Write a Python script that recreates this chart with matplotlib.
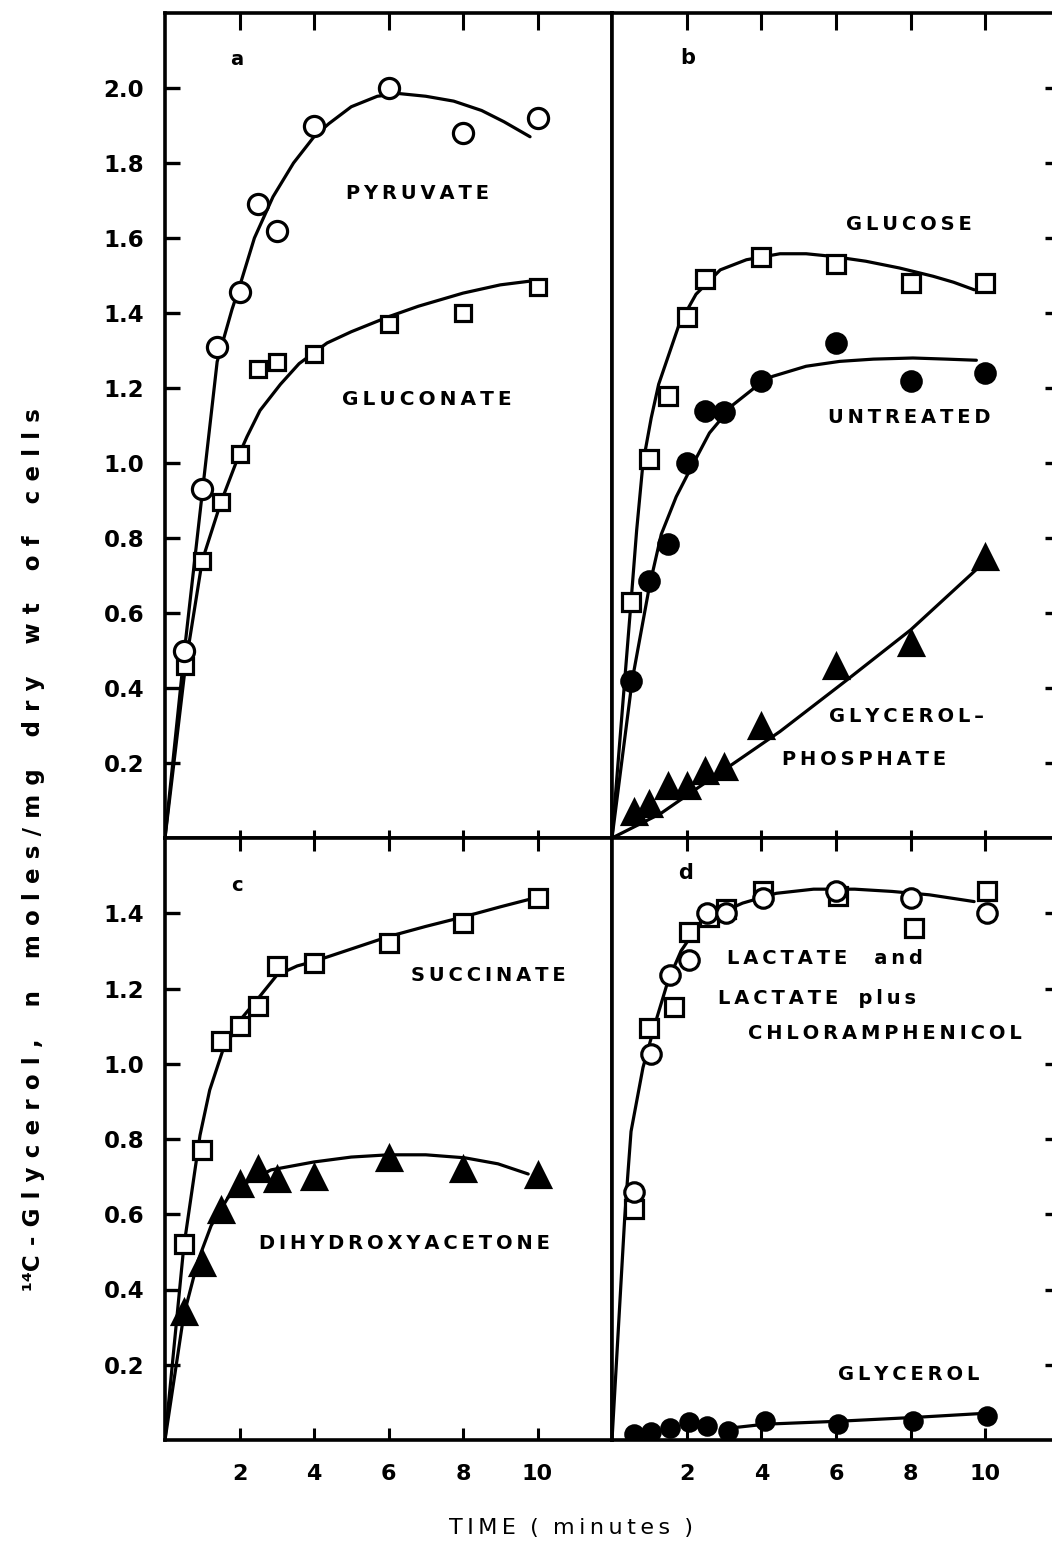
import matplotlib
matplotlib.use("Agg")
import matplotlib.pyplot as plt

plt.rcParams["font.family"] = ["DejaVu Sans"]
plt.rcParams["font.weight"] = "bold"

# --- panel a: pyruvate / gluconate ---
pyr_t = [0.5, 1.0, 1.4, 2.0, 2.5, 3.0, 4.0, 6.0, 8.0, 10.0]
pyr_v = [0.50, 0.93, 1.31, 1.455, 1.69, 1.62, 1.90, 2.00, 1.88, 1.92]
pyr_fit_t = [0, 0.5, 1.0, 1.4, 1.8, 2.0, 2.4, 2.9, 3.45, 4.0, 4.4, 5.0, 5.7, 6.3, 7.0, 7.75, 8.5, 9.1, 9.8]
pyr_fit_v = [0, 0.48, 0.92, 1.27, 1.41, 1.47, 1.60, 1.71, 1.80, 1.87, 1.905, 1.95, 1.978, 1.985, 1.978, 1.965, 1.94, 1.91, 1.87]

glcn_t = [0.55, 1.0, 1.5, 2.0, 2.5, 3.0, 4.0, 6.0, 8.0, 10.0]
glcn_v = [0.46, 0.74, 0.895, 1.025, 1.25, 1.27, 1.29, 1.37, 1.40, 1.47]
glcn_fit_t = [0, 0.55, 1.0, 1.5, 2.0, 2.2, 2.55, 3.1, 3.6, 4.35, 5.0, 6.0, 6.8, 8.0, 9.0, 9.8]
glcn_fit_v = [0, 0.46, 0.74, 0.895, 1.025, 1.07, 1.14, 1.21, 1.265, 1.32, 1.35, 1.39, 1.418, 1.453, 1.475, 1.485]

# --- panel b: glucose / untreated / glycerol-phosphate ---
glc_t = [0.5, 1.0, 1.5, 2.0, 2.5, 4.0, 6.0, 8.0, 10.0]
glc_v = [0.63, 1.01, 1.18, 1.39, 1.49, 1.55, 1.53, 1.48, 1.48]
glc_fit_t = [0, 0.51, 0.66, 0.83, 1.05, 1.25, 1.8, 2.25, 2.9, 3.6, 4.5, 5.2, 5.9, 6.8, 7.7, 8.6, 9.15, 9.7]
glc_fit_v = [0, 0.63, 0.82, 1.0, 1.12, 1.21, 1.37, 1.45, 1.515, 1.542, 1.558, 1.558, 1.551, 1.538, 1.52, 1.498, 1.482, 1.462]

unt_t = [0.5, 1.0, 1.5, 2.0, 2.5, 3.0, 4.0, 6.0, 8.0, 10.0]
unt_v = [0.42, 0.685, 0.785, 1.0, 1.14, 1.135, 1.22, 1.32, 1.22, 1.24]
unt_fit_t = [0, 0.54, 1.0, 1.32, 1.72, 2.08, 2.61, 3.24, 4.0, 4.3, 5.2, 6.1, 7.0, 8.06, 8.96, 9.76]
unt_fit_v = [0, 0.42, 0.67, 0.81, 0.91, 0.98, 1.08, 1.155, 1.215, 1.231, 1.258, 1.271, 1.277, 1.28, 1.277, 1.274]

gp_t = [0.6, 1.0, 1.5, 2.0, 2.5, 3.0, 4.0, 6.0, 8.0, 10.0]
gp_v = [0.07, 0.09, 0.14, 0.14, 0.18, 0.19, 0.30, 0.46, 0.52, 0.75]
gp_fit_t = [0, 1.3, 2.2, 3.2, 4.5, 6.3, 8.0, 9.76]
gp_fit_v = [0, 0.065, 0.127, 0.195, 0.284, 0.422, 0.555, 0.716]

# --- panel c: succinate / dihydroxyacetone ---
suc_t = [0.5, 1.0, 1.5, 2.0, 2.5, 3.0, 4.0, 6.0, 8.0, 10.0]
suc_v = [0.52, 0.77, 1.06, 1.10, 1.153, 1.26, 1.268, 1.32, 1.375, 1.44]
suc_fit_t = [0, 0.5, 0.94, 1.2, 1.55, 2.05, 2.47, 3.0, 3.55, 4.0, 5.0, 6.0, 7.0, 8.0, 9.0, 9.9]
suc_fit_v = [0, 0.51, 0.81, 0.93, 1.035, 1.12, 1.17, 1.235, 1.26, 1.272, 1.305, 1.338, 1.365, 1.39, 1.417, 1.44]

dha_t = [0.5, 1.0, 1.5, 2.0, 2.5, 3.0, 4.0, 6.0, 8.0, 10.0]
dha_v = [0.34, 0.47, 0.61, 0.68, 0.72, 0.695, 0.70, 0.75, 0.72, 0.705]
dha_fit_t = [0, 0.5, 0.88, 1.24, 1.69, 2.13, 2.85, 4.0, 5.0, 6.0, 7.0, 8.05, 8.94, 9.75]
dha_fit_v = [0, 0.33, 0.475, 0.57, 0.644, 0.681, 0.718, 0.739, 0.752, 0.758, 0.758, 0.75, 0.734, 0.707]

# --- panel d: lactate, lactate + chloramphenicol, glycerol ---
lac_t = [0.6, 1.05, 1.55, 2.05, 2.55, 3.05, 4.05, 6.0, 8.0, 10.05]
lac_v = [0.66, 1.025, 1.235, 1.275, 1.40, 1.40, 1.44, 1.46, 1.44, 1.40]
lcm_t = [0.6, 1.0, 1.65, 2.05, 2.6, 3.05, 4.05, 6.05, 8.1, 10.05]
lcm_v = [0.615, 1.095, 1.15, 1.35, 1.39, 1.41, 1.46, 1.445, 1.36, 1.46]
lac_fit_t = [0, 0.34, 0.42, 0.51, 0.83, 1.18, 1.5, 1.85, 2.35, 2.88, 3.5, 4.4, 5.4, 6.5, 7.5, 8.5, 9.7]
lac_fit_v = [0, 0.59, 0.70, 0.82, 0.99, 1.115, 1.22, 1.30, 1.373, 1.40, 1.427, 1.453, 1.464, 1.464, 1.458, 1.449, 1.431]

gly_t = [0.6, 1.05, 1.55, 2.05, 2.55, 3.1, 4.1, 6.05, 8.05, 10.05]
gly_v = [0.015, 0.02, 0.033, 0.049, 0.038, 0.024, 0.051, 0.043, 0.051, 0.064]
gly_fit_t = [3.1, 4.1, 6.1, 8.1, 10.0]
gly_fit_v = [0.031, 0.042, 0.05, 0.06, 0.071]

x_ticks = [2, 4, 6, 8, 10]
y_ticks_top = [0.2, 0.4, 0.6, 0.8, 1.0, 1.2, 1.4, 1.6, 1.8, 2.0]
y_ticks_bottom = [0.2, 0.4, 0.6, 0.8, 1.0, 1.2, 1.4]

W, H = 1052, 1549
fig = plt.figure(figsize=(W / 100, H / 100), dpi=100)


def px_axes(left, top, right, bottom):
    return fig.add_axes([left / W, 1 - bottom / H, (right - left) / W, (bottom - top) / H])


def spaced(word, gap="\u2009"):
    return gap.join(word)


def label(ax, x, y, text, ha="center", size=14):
    ax.text(x, y, text, ha=ha, va="center", fontsize=size, fontweight="bold", zorder=5)


def style(ax, ymax, yticks, left_side, bottom_labels, top_len, bot_len):
    ax.set_xlim(0, 12)
    ax.set_ylim(0, ymax)
    for s in ax.spines.values():
        s.set_linewidth(2.6)
    ax.set_xticks(x_ticks)
    ax.set_yticks(yticks)
    ax.tick_params(axis="x", direction="in", top=True, bottom=True, width=2.2,
                   labelbottom=bottom_labels, labelsize=16, pad=17)
    ax.tick_params(axis="y", direction="in", left=left_side, right=not left_side,
                   labelleft=left_side, labelright=False, width=2.4, length=11,
                   labelsize=16.5, pad=15)
    for t in ax.xaxis.get_major_ticks():
        t.tick1line.set_markersize(bot_len)
        t.tick2line.set_markersize(top_len)
    if left_side:
        ax.set_yticklabels([f"{v:.1f}" for v in yticks])


def curve(ax, t, v):
    ax.plot(t, v, color="black", lw=2.3, zorder=2, solid_capstyle="round")


def pts(ax, t, v, marker, filled, ms):
    ax.plot(t, v, ls="none", marker=marker, ms=ms, mew=2.3, mec="black",
            mfc="black" if filled else "white", zorder=3)


ax_a = px_axes(165, 13, 612, 838)
ax_b = px_axes(612, 13, 1060, 838)
ax_c = px_axes(165, 838, 612, 1440)
ax_d = px_axes(612, 838, 1060, 1440)

style(ax_a, 2.2, y_ticks_top, True, False, 12, 6)
style(ax_b, 2.2, y_ticks_top, False, False, 12, 6)
style(ax_c, 1.6, y_ticks_bottom, True, True, 9, 9)
style(ax_d, 1.6, y_ticks_bottom, False, True, 9, 9)

# a
curve(ax_a, pyr_fit_t, pyr_fit_v)
curve(ax_a, glcn_fit_t, glcn_fit_v)
pts(ax_a, glcn_t, glcn_v, "s", False, 12)
pts(ax_a, pyr_t, pyr_v, "o", False, 14.5)
label(ax_a, 1.93, 2.075, "a", size=14)
label(ax_a, 6.77, 1.718, spaced("PYRUVATE"), size=14)
label(ax_a, 7.04, 1.169, spaced("GLUCONATE"), size=14.5)

# b
curve(ax_b, glc_fit_t, glc_fit_v)
curve(ax_b, unt_fit_t, unt_fit_v)
curve(ax_b, gp_fit_t, gp_fit_v)
pts(ax_b, glc_t, glc_v, "s", False, 12.5)
pts(ax_b, unt_t, unt_v, "o", True, 14)
pts(ax_b, gp_t, gp_v, "^", True, 17.5)
label(ax_b, 2.04, 2.08, "b", size=15)
label(ax_b, 7.96, 1.636, spaced("GLUCOSE"), size=14)
label(ax_b, 7.96, 1.121, spaced("UNTREATED"), size=14)
label(ax_b, 7.90, 0.324, spaced("GLYCEROL") + "\u2009\u2013", size=14)
label(ax_b, 6.75, 0.209, spaced("PHOSPHATE"), size=14)

# c
curve(ax_c, suc_fit_t, suc_fit_v)
curve(ax_c, dha_fit_t, dha_fit_v)
pts(ax_c, suc_t, suc_v, "s", False, 12.5)
pts(ax_c, dha_t, dha_v, "^", True, 17.5)
label(ax_c, 1.93, 1.475, "c", size=14)
label(ax_c, 8.68, 1.235, spaced("SUCCINATE"), size=14)
label(ax_c, 6.43, 0.523, spaced("DIHYDROXYACETONE"), size=14)

# d
curve(ax_d, lac_fit_t, lac_fit_v)
curve(ax_d, gly_fit_t, gly_fit_v)
pts(ax_d, lcm_t, lcm_v, "s", False, 12.5)
pts(ax_d, lac_t, lac_v, "o", False, 14)
pts(ax_d, gly_t, gly_v, "o", True, 12.5)
label(ax_d, 1.98, 1.508, "d", size=15)
label(ax_d, 3.07, 1.28, spaced("LACTATE") + "    " + spaced("and"), ha="left", size=14)
label(ax_d, 2.85, 1.173, spaced("LACTATE") + "   " + spaced("plus"), ha="left", size=14)
label(ax_d, 3.65, 1.08, spaced("CHLORAMPHENICOL"), ha="left", size=14)
label(ax_d, 7.94, 0.173, spaced("GLYCEROL"), size=14)

# shared axis titles
words = ["C-Glycerol,", "n", "moles/mg", "dry", "wt", "of", "cells"]
ylab = "\u00b9\u2074" + "    ".join(spaced(w, "\u2009\u2009") for w in words)
fig.text(34 / W, 1 - 850 / H, ylab, rotation=90, ha="center", va="center",
         fontsize=16.5, fontweight="bold")
fig.text(571 / W, 1 - 1528 / H, spaced("TIME") + "  (  " + spaced("minutes") + "  )",
         ha="center", va="center", fontsize=16, fontweight="normal")

fig.savefig("out.png", dpi=100, facecolor="white")
